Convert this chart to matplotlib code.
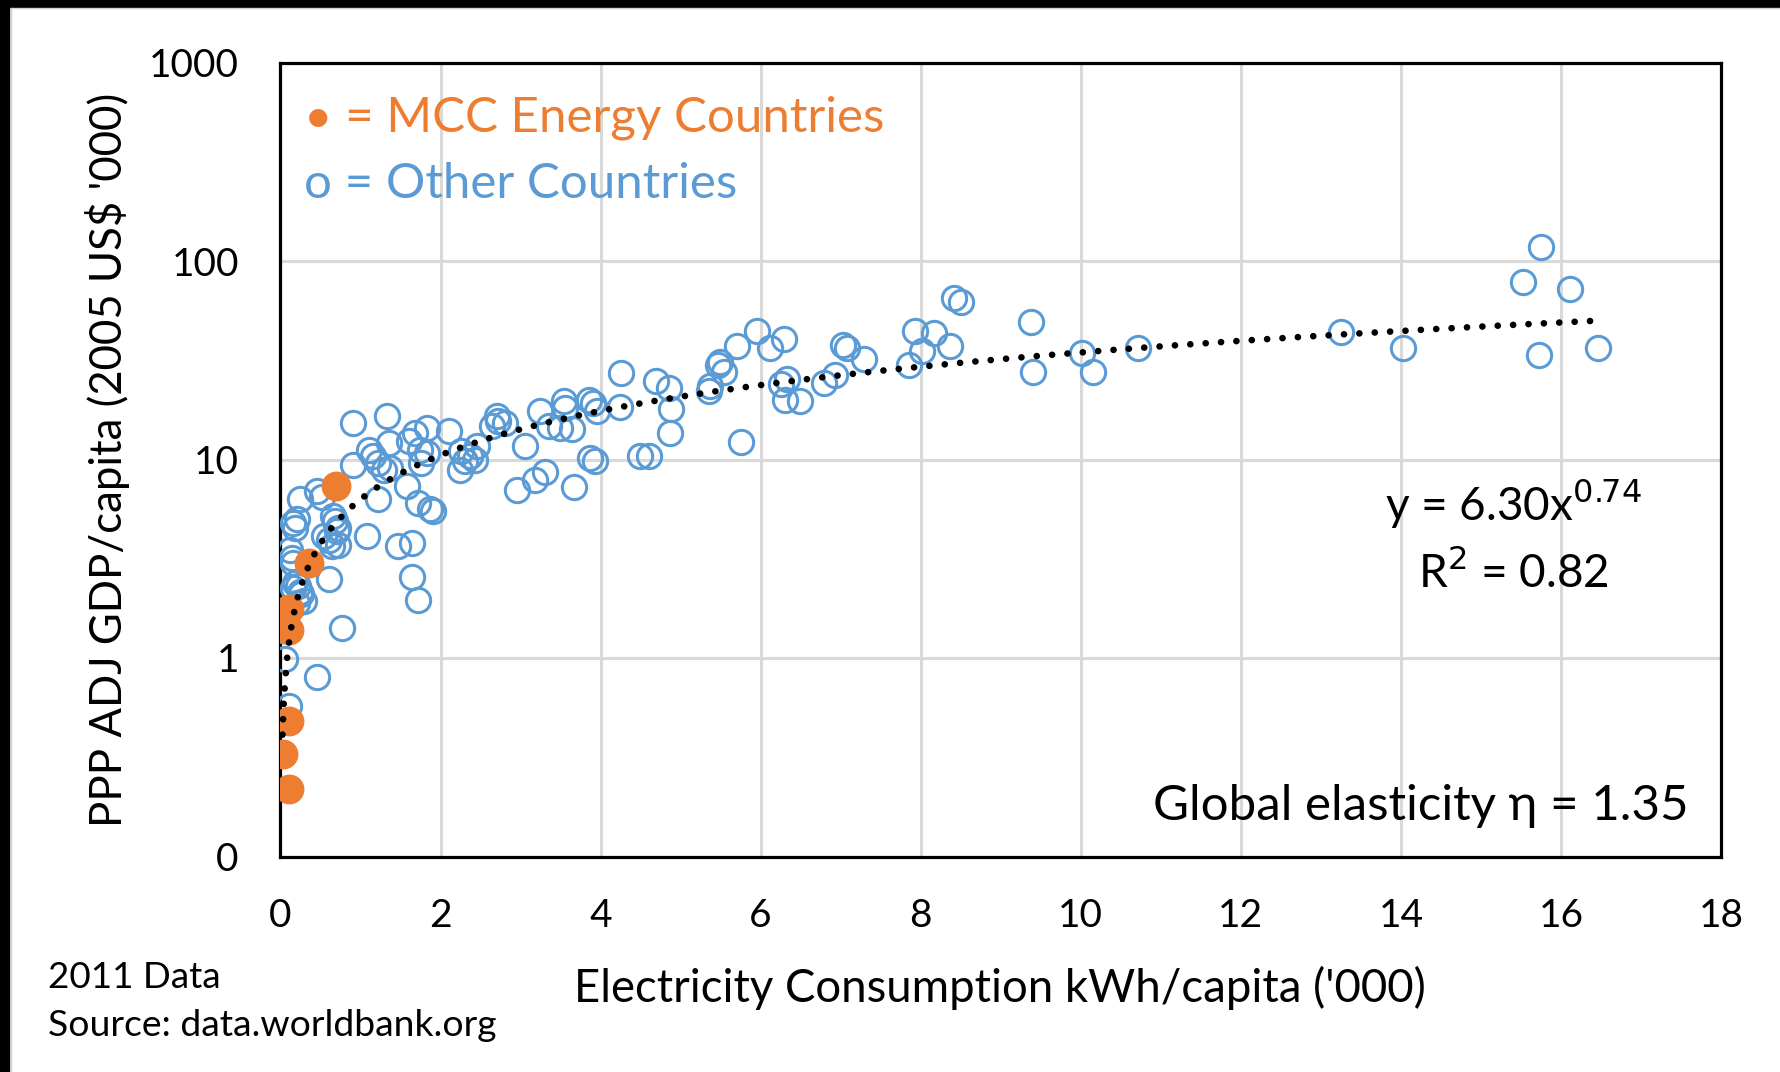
import numpy as np
import matplotlib.pyplot as plt
from matplotlib.patches import Rectangle
from matplotlib.ticker import FixedLocator, FuncFormatter

plt.rcParams['font.family'] = ['Lato', 'DejaVu Sans']

# electricity use ('000 kWh/capita) vs PPP GDP/capita ('000 2005 US$), 2011
mcc_x = [0.69, 0.36, 0.11, 0.10, 0.10, 0.025, 0.11]
mcc_y = [7.35, 3.0, 1.77, 1.39, 0.48, 0.33, 0.22]

other_x = [0.035, 0.056, 0.11, 0.45, 0.77,
           0.12, 0.14, 0.16,
           0.16, 0.18, 0.22, 0.24, 0.26, 0.29, 0.20,
           0.16, 0.18, 0.20, 0.24, 0.45, 0.52,
           0.66, 0.68, 0.72, 0.70, 0.54, 0.60, 0.72, 0.64, 0.60,
           0.91, 0.91, 1.08, 1.10, 1.16, 1.22, 1.29, 1.37, 1.22, 1.33, 1.35, 1.47,
           1.60, 1.68, 1.74, 1.83, 1.83, 1.76, 1.58, 1.72, 1.91, 1.87, 1.64, 1.64, 1.72, 2.10,
           2.26, 2.31, 2.24, 2.43, 2.45, 2.37, 2.64, 2.72, 2.81, 2.70, 2.95,
           3.06, 3.18, 3.31, 3.24, 3.35, 3.49, 3.64, 3.54, 3.56, 3.85, 3.91, 3.95, 3.87, 3.93, 3.67,
           4.26, 4.24, 4.49, 4.61, 4.69, 4.85, 4.88, 4.87,
           5.35, 5.37, 5.47, 5.49, 5.54, 5.70, 5.76, 5.95, 6.12, 6.29, 6.26, 6.33, 6.31, 6.49, 6.79, 6.93,
           7.03, 7.08, 7.29, 7.85, 7.93, 8.01, 8.16, 8.37, 8.41, 8.50,
           9.38, 9.40, 10.02, 10.15, 10.71, 13.25, 14.03, 15.53, 15.75, 16.11, 15.73, 16.46]
other_y = [1.39, 0.99, 0.57, 0.80, 1.42,
           3.5, 3.2, 3.0,
           2.25, 2.39, 2.30, 2.16, 2.09, 1.93, 1.90,
           4.8, 4.5, 5.0, 6.3, 6.9, 6.5,
           5.2, 4.9, 4.5, 4.35, 4.1, 3.95, 3.73, 3.65, 2.50,
           15.2, 9.4, 4.1, 11.2, 10.4, 9.6, 8.9, 9.1, 6.3, 16.5, 12.1, 3.65,
           12.4, 13.6, 11.2, 14.4, 10.8, 9.6, 7.35, 6.06, 5.5, 5.6, 3.8, 2.55, 1.95, 13.9,
           11.0, 9.8, 8.9, 10.0, 11.7, 10.4, 14.7, 15.6, 15.3, 16.5, 7.06,
           11.7, 7.9, 8.7, 17.5, 14.7, 14.4, 14.2, 19.6, 18.2, 20.0, 19.3, 17.5, 10.2, 9.8, 7.25,
           27.4, 18.4, 10.4, 10.4, 24.8, 23.0, 18.0, 13.6,
           22.1, 23.4, 30.1, 31.0, 27.6, 37.2, 12.3, 44.3, 36.5, 40.6, 23.9, 25.5, 20.0, 19.7, 24.3, 26.5,
           37.9, 36.6, 31.9, 29.9, 44.3, 35.2, 43.5, 37.2, 65.0, 62.0,
           49.0, 27.6, 34.5, 27.6, 36.4, 43.7, 36.4, 78.0, 117.0, 72.0, 33.6, 36.4]

# power-law trend fitted over all countries
trend_a = 6.30
trend_b = 0.74
r_squared = 0.82
elasticity = 1.35

x_ticks = [0, 2, 4, 6, 8, 10, 12, 14, 16, 18]
y_ticks = [0.1, 1, 10, 100, 1000]

ORANGE = '#ED7D31'
BLUE = '#5B9BD5'
GRID = '#D9D9D9'

W, H = 1781, 1072
fig = plt.figure(figsize=(W / 100, H / 100), dpi=100)


def fx(px):
    return px / W


def fy(py):
    return 1 - py / H


# dark frame along the top and left edge of the image
fig.patches.append(Rectangle((0, fy(6.5)), 1, 6.5 / H, transform=fig.transFigure,
                             color='black', zorder=0))
fig.patches.append(Rectangle((0, 0), 9.5 / W, 1, transform=fig.transFigure,
                             color='black', zorder=0))
fig.add_artist(plt.Line2D([fx(11), 1], [fy(8), fy(8)], color='#D0D0D0', lw=1.0))
fig.add_artist(plt.Line2D([fx(11), fx(11)], [0, fy(8)], color='#D0D0D0', lw=1.0))

ax = fig.add_axes([fx(280.5), fy(856.5), (1721 - 280.5) / W, (856.5 - 62.5) / H])

ax.plot(other_x, other_y, 'o', ms=17.5, mfc='none', mec=BLUE, mew=2.2, zorder=3)
ax.plot(mcc_x, mcc_y, 'o', ms=21.5, mfc=ORANGE, mec=ORANGE, mew=0, zorder=4)

all_x = np.array(other_x + mcc_x)
tx = np.geomspace(all_x.min(), all_x.max(), 400)
ax.plot(tx, trend_a * tx ** trend_b, color='black', lw=4.8,
        linestyle=(0, (0.01, 2.3)), dash_capstyle='round', zorder=5)

ax.set_yscale('log')
ax.set_xlim(0, 18)
ax.set_ylim(0.1, 1000)
ax.xaxis.set_major_locator(FixedLocator(x_ticks))
ax.yaxis.set_major_locator(FixedLocator(y_ticks))
ax.yaxis.set_minor_locator(FixedLocator([]))
ax.yaxis.set_major_formatter(FuncFormatter(lambda v, p: '0' if v < 1 else f'{v:.0f}'))
ax.tick_params(length=0, labelsize=28, colors='black')
ax.tick_params(axis='x', pad=30)
ax.tick_params(axis='y', pad=30)
ax.grid(True, color=GRID, lw=2.2, zorder=0)
ax.set_axisbelow(True)
for s in ax.spines.values():
    s.set_linewidth(2.3)
    s.set_color('black')

# key written as coloured text inside the plot
fig.text(fx(304), fy(118), '\u2022 = MCC Energy Countries', color=ORANGE,
         fontsize=35.5, ha='left', va='center')
fig.text(fx(304), fy(184), 'o = Other Countries', color=BLUE,
         fontsize=35.5, ha='left', va='center')

fig.text(fx(1513), fy(520), f'y = {trend_a:.2f}x$^{{{trend_b:.2f}}}$', fontsize=33,
         ha='center', va='baseline')
fig.text(fx(1513), fy(586.7), f'R$^{{2}}$ = {r_squared:.2f}', fontsize=33,
         ha='center', va='baseline')
fig.text(fx(1689), fy(820), f'Global elasticity \u03b7 = {elasticity:.2f}', fontsize=35.5,
         ha='right', va='baseline')

fig.text(fx(1000), fy(988), "Electricity Consumption kWh/capita ('000)", fontsize=32.8,
         ha='center', va='center')
fig.text(fx(108), fy(460), "PPP ADJ GDP/capita (2005 US$ '000)", fontsize=31.5,
         ha='center', va='center', rotation=90)

fig.text(fx(48), fy(977), '2011 Data', fontsize=26.5, ha='left', va='center')
fig.text(fx(48), fy(1026), 'Source: data.worldbank.org', fontsize=26.8, ha='left', va='center')

fig.savefig('out.png', dpi=100)
